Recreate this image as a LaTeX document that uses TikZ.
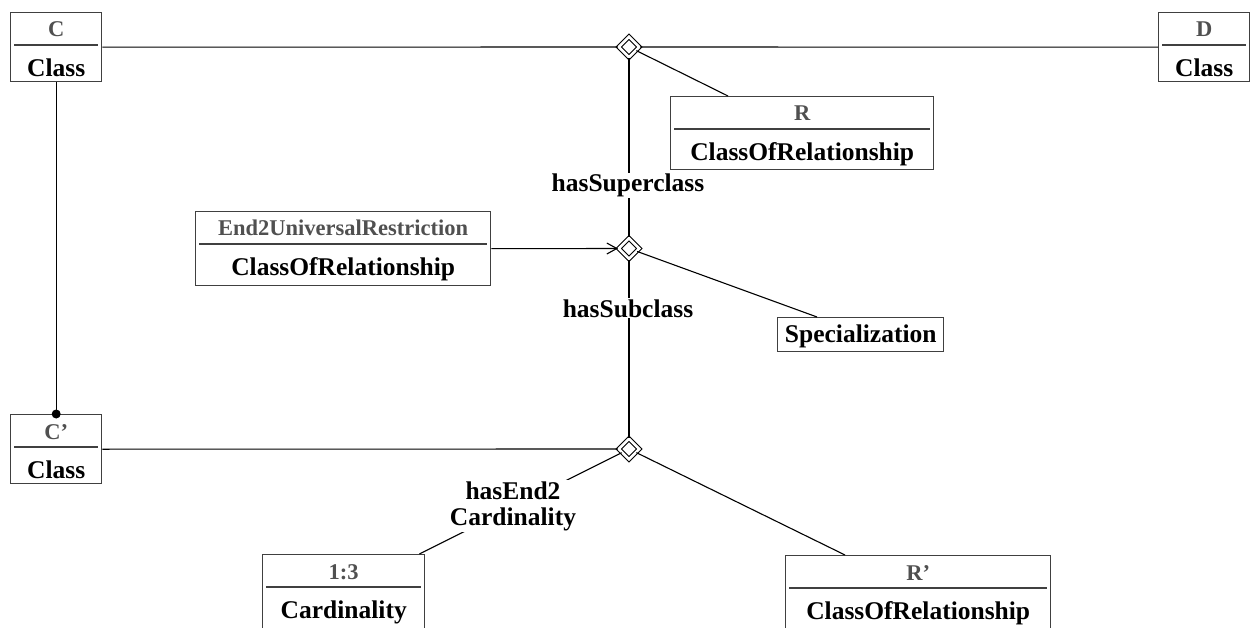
\documentclass[tikz,border=0pt]{standalone}
\usepackage{fontspec}
\setmainfont{Liberation Serif}
\usetikzlibrary{shapes.geometric,arrows.meta,calc}
\definecolor{framegray}{HTML}{404040}
\definecolor{headgray}{HTML}{505050}

% class box: name, left x, top y, width, height, heading, class name
\newcommand\classbox[7]{%
  \node[frame,minimum width=#4pt,minimum height=#5pt] (#1) at (#2,#3) {};
  \node[headtext] (#1-head) at ($(#1.north)+(0,25)$) {#6};
  \draw[sepline] ($(#1.north west)+(4,33)$) -- ($(#1.north east)+(-4,33)$);
  \node[nametext] (#1-name) at ($(#1.north)+(0,64.5)$) {#7};
}

\begin{document}
\begin{tikzpicture}[x=1pt,y=-1pt,
  frame/.style={draw=framegray,line width=1.4pt,inner sep=0pt,anchor=north west},
  sepline/.style={draw=framegray,line width=1.4pt},
  headtext/.style={anchor=base,inner sep=0pt,text=headgray,font=\fontsize{22.5}{24}\selectfont\bfseries},
  nametext/.style={anchor=base,inner sep=0pt,font=\fontsize{25.5}{28}\selectfont\bfseries},
  rolelabel/.style={fill=white,inner sep=1pt,align=center,font=\fontsize{25.5}{26}\selectfont\bfseries},
  link/.style={line width=1.1pt},
  rel/.style={diamond,draw,line width=1.1pt,double,double distance=2.6pt,minimum size=21pt,inner sep=0pt}]

\useasboundingbox (0,0) rectangle (1252,628);
\clip (0,0) rectangle (1252,628);

% classes
\classbox{C}{10}{12}{91}{69}{C}{Class}
\classbox{D}{1158}{12}{91}{69}{D}{Class}
\classbox{R}{670}{96}{263}{73}{R}{ClassOfRelationship}
\classbox{E}{195}{211}{295}{74}{End2UniversalRestriction}{ClassOfRelationship}
\classbox{Cp}{10}{414}{91}{69}{C’}{Class}
\classbox{Card}{262}{554}{162}{90}{1:3}{Cardinality}
\classbox{Rp}{785}{555}{265}{90}{R’}{ClassOfRelationship}

\node[frame,minimum width=166pt,minimum height=34pt] (S) at (777,317) {};
\node[nametext] (S-name) at ($(S.north)+(0,25)$) {Specialization};

% relationship diamonds
\node[rel] (d1) at (629,47) {};
\node[rel] (d2) at (629,248.5) {};
\node[rel] (d3) at (629,449) {};

% connectors
\draw[link] (C.east) -- (d1.west);
\draw[link] (d1.east) -- (D.west);
\draw[link] (d1) -- ($(R.north west)+(58,0)$);
\draw[link] (d1.south) -- (d2.north);
\draw[link,-{Straight Barb[length=10pt,width=11pt,line width=1.1pt]}] (E.east) -- (d2.west);
\draw[link] (d2) -- ($(S.north west)+(40,0)$);
\draw[link] (d2.south) -- (d3.north);
\draw[link] (C.south) -- (Cp.north);
\fill (Cp.north) circle[radius=4.5pt];
\draw[link] (Cp.east) -- (d3.west);
\draw[link] (d3) -- ($(Card.north east)+(-6,0)$);
\draw[link] (d3) -- ($(Rp.north west)+(60,0)$);

% role labels
\node[rolelabel,anchor=base] (sup) at (628,192) {hasSuperclass};
\node[rolelabel,anchor=base] (sub) at (628,317) {hasSubclass};
\node[rolelabel] (card) at (513,506) {hasEnd2\\Cardinality};
\end{tikzpicture}
\end{document}
